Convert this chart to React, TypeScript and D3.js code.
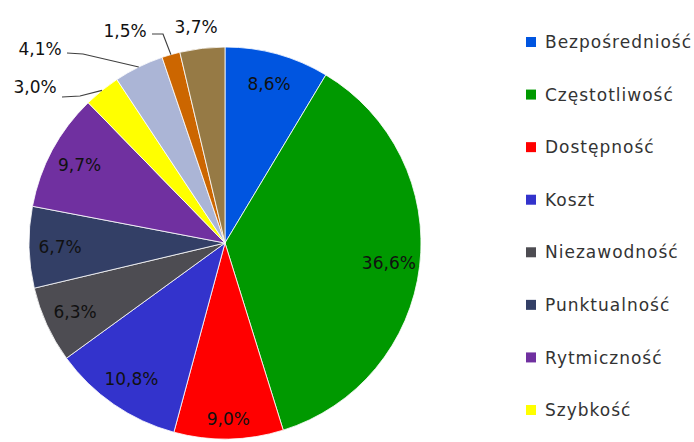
import React, { useEffect, useRef } from "react";
import * as d3 from "d3";

// categories in legend order (last three fall below the visible legend area)
const categories = [
  "Bezpośredniość",
  "Częstotliwość",
  "Dostępność",
  "Koszt",
  "Niezawodność",
  "Punktualność",
  "Rytmiczność",
  "Szybkość",
  "Wygoda",
  "Zasięg",
  "Inne",
];
const shares = [8.6, 36.6, 9.0, 10.8, 6.3, 6.7, 9.7, 3.0, 4.1, 1.5, 3.7];
const colors = [
  "#0055e0",
  "#009900",
  "#ff0000",
  "#3333cc",
  "#4d4c52",
  "#333f66",
  "#7030a0",
  "#ffff00",
  "#abb5d6",
  "#cc6600",
  "#967a45",
];

// small slices get their label outside, Excel-style, placed relative to the pie centre
const outsideLabels: Record<string, { dx: number; dy: number; elbow?: [number, number]; end?: [number, number] }> = {
  "Szybkość": { dx: -190, dy: -156, elbow: [-145, -147], end: [-163, -146] },
  "Wygoda": { dx: -185, dy: -194, elbow: [-142, -189], end: [-158, -190] },
  "Zasięg": { dx: -100, dy: -212, elbow: [-62, -209], end: [-73, -209] },
  "Inne": { dx: -29, dy: -216 },
};

const fmt = (v: number) => v.toFixed(1).replace(".", ",") + "%";

export default function App() {
  const ref = useRef<SVGSVGElement>(null);

  useEffect(() => {
    const svg = d3.select(ref.current);
    svg.selectAll("*").remove();

    const width = 694,
      height = 442;
    const cx = 225,
      cy = 243,
      r = 196;

    const data = categories.map((c, i) => ({ name: c, value: shares[i], color: colors[i] }));
    const pie = d3.pie<any>().sort(null).value((d) => d.value);
    const arcs = pie(data);
    const arc = d3.arc<any>().innerRadius(0).outerRadius(r);

    const g = svg.append("g").attr("transform", `translate(${cx},${cy})`);

    g.selectAll("path.slice")
      .data(arcs)
      .enter()
      .append("path")
      .attr("class", "slice")
      .attr("d", arc)
      .attr("fill", (d) => d.data.color)
      .attr("stroke", "#ffffff")
      .attr("stroke-opacity", 0.8)
      .attr("stroke-width", 1);

    const labelFont = "'DejaVu Sans', sans-serif";

    arcs.forEach((a) => {
      const out = outsideLabels[a.data.name];
      const mid = (a.startAngle + a.endAngle) / 2;
      if (!out) {
        // label inside the slice
        const lr = a.data.name === "Dostępność" ? r * 0.9 : r * 0.842;
        g.append("text")
          .attr("x", lr * Math.sin(mid))
          .attr("y", -lr * Math.cos(mid))
          .attr("dy", "0.36em")
          .attr("text-anchor", "middle")
          .style("font-family", labelFont)
          .style("font-size", "17px")
          .attr("fill", "#111")
          .text(fmt(a.data.value));
      } else {
        if (out.elbow && out.end) {
          const p0: [number, number] = [r * Math.sin(mid), -r * Math.cos(mid)];
          g.append("path")
            .attr("d", d3.line()([p0, out.elbow, out.end]))
            .attr("fill", "none")
            .attr("stroke", "#404040")
            .attr("stroke-width", 1.2);
        }
        g.append("text")
          .attr("x", out.dx)
          .attr("y", out.dy)
          .attr("dy", "0.36em")
          .attr("text-anchor", "middle")
          .style("font-family", labelFont)
          .style("font-size", "17px")
          .attr("fill", "#111")
          .text(fmt(a.data.value));
      }
    });

    // legend, only the entries that fit in the frame
    const ly = d3
      .scalePoint<string>()
      .domain(categories.slice(0, 8))
      .range([42, 410]);
    const step = ly.step();
    const visible = data.filter((d, i) => 42 + i * step < height - 10);
    const legend = svg
      .append("g")
      .selectAll("g")
      .data(visible)
      .enter()
      .append("g")
      .attr("transform", (d, i) => `translate(526,${42 + i * step})`);

    legend
      .append("rect")
      .attr("x", 0)
      .attr("y", -5)
      .attr("width", 10)
      .attr("height", 10)
      .attr("fill", (d) => d.color);

    legend
      .append("text")
      .attr("x", 19)
      .attr("y", 0)
      .attr("dy", "0.36em")
      .style("font-family", labelFont)
      .style("font-size", "17px")
      .style("letter-spacing", "1px")
      .attr("fill", "#333")
      .text((d) => d.name);
  }, []);

  return (
    <svg
      ref={ref}
      width={694}
      height={442}
      style={{ position: "absolute", left: 0, top: 0, background: "#fff" }}
    />
  );
}
